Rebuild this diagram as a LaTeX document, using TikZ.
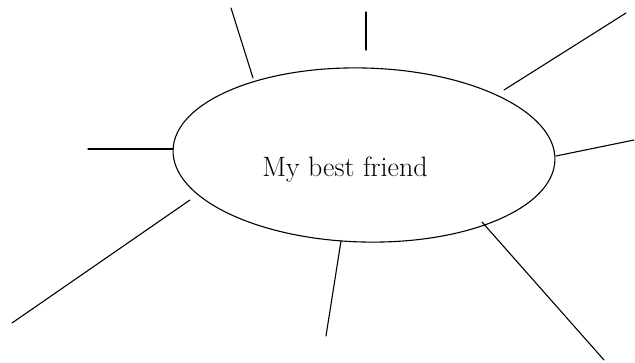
\documentclass[tikz,border=0pt]{standalone}
\usetikzlibrary{shapes.geometric}
\begin{document}
\begin{tikzpicture}[x=1pt,y=-1pt,
  ray/.style={line width=1.1pt, line cap=round},
  bubble/.style={draw, ellipse, line width=1.1pt, minimum width=382pt, minimum height=174pt, inner sep=0pt},
  label/.style={font=\fontsize{28}{32}\selectfont, anchor=base, inner sep=0pt}]
\useasboundingbox (0,0) rectangle (635,362);
\node[bubble, rotate=-1.5] (c) at (364,155) {};
\node[label] (t) at (345,176) {My best friend};
% ray start points (on/near ellipse)
\coordinate (s1) at (253,78);
\coordinate (s2) at (366,50);
\coordinate (s3) at (504,90);
\coordinate (s4) at (556,156);
\coordinate (s5) at (173,149);
\coordinate (s6) at (190,200);
\coordinate (s7) at (341,241);
\coordinate (s8) at (482,222);
% free ends
\coordinate (e1) at (231,8);
\coordinate (e2) at (366,12);
\coordinate (e3) at (626,13);
\coordinate (e4) at (634,140);
\coordinate (e5) at (88,149);
\coordinate (e6) at (12,323);
\coordinate (e7) at (326,336);
\coordinate (e8) at (604,360);
\foreach \i in {1,...,8} \draw[ray] (s\i) -- (e\i);
\end{tikzpicture}
\end{document}
